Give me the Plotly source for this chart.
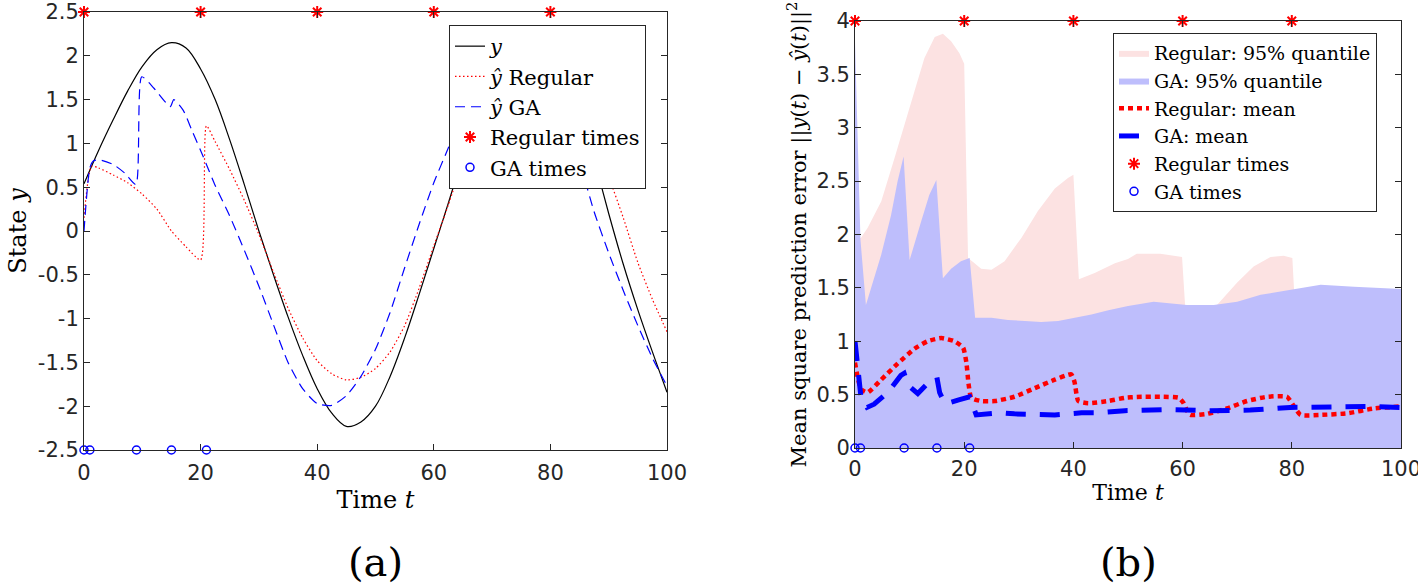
import plotly.graph_objects as go

# ---------------- Panel (a): state and estimates ----------------
T_TRUE = [0, 2.5, 5, 7.5, 10, 12.5, 15, 17.5, 20, 22.5, 25, 27.5, 30, 32.5, 35, 37.5, 40,
          42.5, 45, 47.5, 50, 52.5, 55, 57.5, 60, 62.5, 65, 67.5, 70, 72.5, 75, 77.5, 80,
          82.5, 85, 87.5, 90, 92.5, 95, 97.5, 100]
Y_TRUE = [0.54, 0.92, 1.27, 1.6, 1.88, 2.07, 2.15, 2.09, 1.85, 1.5, 1.04, 0.53, 0.0, -0.5,
          -0.98, -1.42, -1.8, -2.08, -2.23, -2.18, -2.0, -1.66, -1.22, -0.72, -0.2, 0.32,
          0.85, 1.32, 1.72, 2.0, 2.17, 2.2, 2.07, 1.8, 1.4, 0.82, 0.2, -0.38, -0.9, -1.38,
          -1.84]

T_REG = [0, 1.3, 2.5, 5, 7.5, 10, 12.5, 15, 17.5, 20, 21, 22.5, 25, 27.5, 30, 32.5, 35,
         37.5, 40, 42.5, 45, 47.5, 50, 52.5, 55, 57.5, 60, 62.5, 65, 67.5, 70, 72.5, 75,
         77.5, 80, 82.5, 85, 87.5, 90, 92.5, 95, 97.5, 100]
Y_REG = [0.15, 0.74, 0.72, 0.64, 0.55, 0.42, 0.25, 0.0, -0.18, -0.33, 1.2, 1.02, 0.7, 0.35,
         -0.04, -0.47, -0.88, -1.22, -1.48, -1.63, -1.7, -1.67, -1.57, -1.38, -1.08, -0.65,
         -0.17, 0.3, 0.8, 1.25, 1.62, 1.9, 2.05, 2.08, 1.98, 1.75, 1.42, 1.05, 0.62, 0.15,
         -0.36, -0.78, -1.15]

T_GA = [0, 1, 1.6, 2.75, 5, 7, 8.9, 9.9, 12, 14.8, 15.4, 17, 18.5, 20, 21, 22.5, 25, 27.5,
        30, 32.5, 35, 37.5, 40, 42.5, 45, 47.5, 50, 52.5, 55, 57.5, 60, 62.5, 65, 67.5, 70,
        72.5, 75, 77.5, 80, 82.5, 85, 87.5, 90, 92.5, 95, 97.5, 100]
Y_GA = [0.0, 0.72, 0.8, 0.81, 0.76, 0.66, 0.53, 1.76, 1.63, 1.42, 1.5, 1.38, 1.15, 0.92,
        0.76, 0.52, 0.17, -0.22, -0.63, -1.07, -1.5, -1.8, -1.97, -1.99, -1.88, -1.66,
        -1.35, -0.93, -0.42, 0.08, 0.55, 0.95, 1.35, 1.72, 2.0, 2.17, 2.18, 2.05, 1.78,
        1.35, 0.8, 0.22, -0.25, -0.68, -1.08, -1.45, -1.77]

REG_TIMES = [0, 20, 40, 60, 80]
GA_TIMES = [0, 1, 9, 15, 21]

# ---------------- Panel (b): mean square prediction error ----------------
T_REG_Q = [0, 1.1, 2.3, 4.8, 7.2, 9.05, 10.9, 12.7, 14.6, 16.1, 17.6, 19.1, 20.0, 20.7, 21.9,
           23.1, 25, 27.4, 30.5, 33.5, 36.6, 39, 40, 41, 43.9, 47.6, 50, 51.6, 55.9, 59.9,
           60.5, 63, 66.3, 70, 73, 76.1, 78.5, 80.1, 80.6, 85, 90, 95, 100]
REG_Q = [1.95, 1.97, 2.06, 2.31, 2.71, 3.03, 3.34, 3.65, 3.85, 3.88, 3.81, 3.70, 3.60, 1.78,
         1.73, 1.68, 1.67, 1.75, 1.97, 2.22, 2.43, 2.53, 2.56, 1.58, 1.64, 1.73, 1.77, 1.82,
         1.82, 1.79, 1.3, 1.28, 1.34, 1.55, 1.70, 1.79, 1.80, 1.78, 1.3, 1.3, 1.3, 1.3, 1.3]

T_GA_Q = [0, 1.0, 2.0, 4.8, 6.6, 7.8, 8.9, 10.0, 12.1, 13.6, 14.9, 16.1, 17.6, 19.4, 21.0,
          22.0, 25, 28, 31.1, 34.1, 37.2, 40.2, 43.3, 46.4, 50, 54.7, 60.8, 65.7, 70, 74.3,
          79.2, 85.3, 91.4, 97.5, 100]
GA_Q = [3.81, 1.95, 1.34, 1.81, 2.18, 2.5, 2.73, 1.76, 2.12, 2.37, 2.51, 1.59, 1.68, 1.75,
        1.78, 1.22, 1.22, 1.2, 1.19, 1.18, 1.19, 1.22, 1.25, 1.29, 1.33, 1.37, 1.34, 1.34,
        1.37, 1.435, 1.48, 1.53, 1.51, 1.50, 1.49]

T_REG_M = [0, 0.5, 1.1, 2.3, 4.8, 7.8, 10.9, 13.3, 15.8, 18.2, 19.8, 20.4, 20.8, 21.3, 23.1,
           25.6, 29.2, 32.9, 36.6, 39.6, 40.2, 40.9, 42.7, 46.4, 49.4, 51.6, 55.9, 59.3,
           60.2, 60.8, 61.4, 64.5, 68.1, 71.8, 75.5, 79.1, 80.4, 81.6, 85.3, 90.2, 95, 100]
REG_M = [0.8, 0.66, 0.55, 0.52, 0.64, 0.79, 0.93, 1.0, 1.03, 1.0, 0.94, 0.8, 0.6, 0.47, 0.44,
         0.44, 0.48, 0.56, 0.64, 0.69, 0.62, 0.44, 0.42, 0.44, 0.47, 0.478, 0.48, 0.47, 0.42,
         0.35, 0.31, 0.32, 0.37, 0.44, 0.48, 0.48, 0.39, 0.31, 0.31, 0.325, 0.37, 0.39]

T_GA_M = [0, 0.5, 1.1, 2.2, 3.5, 6, 8.4, 9, 9.7, 11.5, 13.6, 15, 15.5, 16.4, 17, 19, 21,
          22.2, 26.8, 29.2, 34.1, 36.6, 41.5, 44.5, 49.4, 51.6, 57.7, 65, 72.4, 79.7, 87.1,
          94.4, 100]
GA_M = [1.0, 0.75, 0.47, 0.38, 0.41, 0.52, 0.68, 0.7, 0.59, 0.51, 0.62, 0.66, 0.52, 0.42,
        0.42, 0.45, 0.48, 0.31, 0.33, 0.32, 0.31, 0.31, 0.33, 0.33, 0.35, 0.355, 0.36, 0.35,
        0.355, 0.38, 0.39, 0.39, 0.38]

# ---------------- Axes ----------------
X_RANGE = [0, 100]
X_TICKS = [0, 20, 40, 60, 80, 100]
X_TICK_TEXT = ["0", "20", "40", "60", "80", "100"]
YA_RANGE = [-2.5, 2.5]
YA_TICKS = [-2.5, -2, -1.5, -1, -0.5, 0, 0.5, 1, 1.5, 2, 2.5]
YA_TICK_TEXT = ["-2.5", "-2", "-1.5", "-1", "-0.5", "0", "0.5", "1", "1.5", "2", "2.5"]
YB_RANGE = [0, 4]
YB_TICKS = [0, 0.5, 1, 1.5, 2, 2.5, 3, 3.5, 4]
YB_TICK_TEXT = ["0", "0.5", "1", "1.5", "2", "2.5", "3", "3.5", "4"]

W, H = 1418, 586
SERIF = "DejaVu Serif, Liberation Serif, serif"
SANS = "DejaVu Sans, Liberation Sans, Arial, sans-serif"
AX = "#262626"
RED = "#ff0000"
BLUE = "#0000ff"
PINK_FILL = "rgb(252,226,226)"
BLUE_FILL = "rgb(190,190,252)"

fig = go.Figure()

# --- panel (a) traces ---
fig.add_trace(go.Scatter(x=T_TRUE, y=Y_TRUE, mode="lines", name="<i>y</i>",
                         line=dict(color="black", width=1.2, shape="spline", smoothing=1),
                         xaxis="x", yaxis="y", legend="legend"))
fig.add_trace(go.Scatter(x=T_REG, y=Y_REG, mode="lines", name="<i>ŷ</i> Regular",
                         line=dict(color=RED, width=1.2, dash="1.5px,2.5px",
                                   shape="spline", smoothing=0.6),
                         xaxis="x", yaxis="y", legend="legend"))
fig.add_trace(go.Scatter(x=T_GA, y=Y_GA, mode="lines", name="<i>ŷ</i> GA",
                         line=dict(color=BLUE, width=1.2, dash="10px,6px",
                                   shape="spline", smoothing=0.6),
                         xaxis="x", yaxis="y", legend="legend"))
fig.add_trace(go.Scatter(x=REG_TIMES, y=[YA_RANGE[1]] * len(REG_TIMES), mode="markers",
                         name="Regular times", cliponaxis=False,
                         marker=dict(symbol="asterisk-open", size=10, color=RED,
                                     line=dict(color=RED, width=2)),
                         xaxis="x", yaxis="y", legend="legend"))
fig.add_trace(go.Scatter(x=GA_TIMES, y=[YA_RANGE[0]] * len(GA_TIMES), mode="markers",
                         name="GA times", cliponaxis=False,
                         marker=dict(symbol="circle-open", size=8, color=BLUE,
                                     line=dict(color=BLUE, width=1.5)),
                         xaxis="x", yaxis="y", legend="legend"))

# --- panel (b) traces ---
fig.add_trace(go.Scatter(x=T_REG_Q, y=REG_Q, mode="lines", fill="tozeroy",
                         fillcolor=PINK_FILL, line=dict(width=0, color=PINK_FILL),
                         name="Regular: 95% quantile", xaxis="x2", yaxis="y2",
                         legend="legend2"))
fig.add_trace(go.Scatter(x=T_GA_Q, y=GA_Q, mode="lines", fill="tozeroy",
                         fillcolor=BLUE_FILL, line=dict(width=0, color=BLUE_FILL),
                         name="GA: 95% quantile", xaxis="x2", yaxis="y2",
                         legend="legend2"))
fig.add_trace(go.Scatter(x=T_REG_M, y=REG_M, mode="lines", name="Regular: mean",
                         line=dict(color=RED, width=4.5, dash="5px,4px",
                                   shape="spline", smoothing=0.5),
                         xaxis="x2", yaxis="y2", legend="legend2"))
fig.add_trace(go.Scatter(x=T_GA_M, y=GA_M, mode="lines", name="GA: mean",
                         line=dict(color=BLUE, width=5, dash="20px,14px"),
                         xaxis="x2", yaxis="y2", legend="legend2"))
fig.add_trace(go.Scatter(x=REG_TIMES, y=[YB_RANGE[1]] * len(REG_TIMES), mode="markers",
                         name="Regular times", cliponaxis=False,
                         marker=dict(symbol="asterisk-open", size=10, color=RED,
                                     line=dict(color=RED, width=2)),
                         xaxis="x2", yaxis="y2", legend="legend2"))
fig.add_trace(go.Scatter(x=GA_TIMES, y=[YB_RANGE[0]] * len(GA_TIMES), mode="markers",
                         name="GA times", cliponaxis=False,
                         marker=dict(symbol="circle-open", size=8, color=BLUE,
                                     line=dict(color=BLUE, width=1.5)),
                         xaxis="x2", yaxis="y2", legend="legend2"))


def axis(**kw):
    d = dict(showline=True, linecolor=AX, linewidth=1, mirror="ticks", ticks="inside",
             ticklen=6, tickcolor=AX, tickwidth=1, showgrid=False, zeroline=False,
             tickfont=dict(family=SANS, size=21, color=AX), automargin=False,
             layer="above traces")
    d.update(kw)
    return d


fig.update_layout(
    width=W, height=H,
    margin=dict(l=0, r=0, t=0, b=0),
    paper_bgcolor="white", plot_bgcolor="white",
    showlegend=True,
    xaxis=axis(domain=[84 / W, 667 / W], range=X_RANGE, tickvals=X_TICKS,
               ticktext=X_TICK_TEXT, anchor="y", ticklabelstandoff=4,
               ticklabeloverflow="allow",
               title=dict(text="Time <i>t</i>", font=dict(family=SERIF, size=24, color="black"),
                          standoff=6)),
    yaxis=axis(domain=[1 - 450 / H, 1 - 12 / H], range=YA_RANGE, tickvals=YA_TICKS,
               ticktext=YA_TICK_TEXT, anchor="x",
               title=dict(text="State <i>y</i>", font=dict(family=SERIF, size=24, color="black"),
                          standoff=4)),
    xaxis2=axis(domain=[855 / W, 1401 / W], range=X_RANGE, tickvals=X_TICKS,
                ticktext=X_TICK_TEXT, anchor="y2", ticklabelstandoff=2,
                ticklabeloverflow="allow",
                title=dict(text="Time <i>t</i>", font=dict(family=SERIF, size=22, color="black"),
                           standoff=4)),
    yaxis2=axis(domain=[1 - 448 / H, 1 - 21 / H], range=YB_RANGE, tickvals=YB_TICKS,
                ticktext=YB_TICK_TEXT, anchor="x2",
                title=dict(text="Mean square prediction error ||<i>y</i>(<i>t</i>) − <i>ŷ</i>(<i>t</i>)||<sup>2</sup>",
                           font=dict(family=SERIF, size=21, color="black"), standoff=4)),
    legend=dict(x=449 / W, y=1 - 25 / H, xanchor="left", yanchor="top",
                bgcolor="white", bordercolor=AX, borderwidth=1,
                font=dict(family=SERIF, size=21, color="black")),
    legend2=dict(x=1113 / W, y=1 - 33 / H, xanchor="left", yanchor="top",
                 bgcolor="white", bordercolor=AX, borderwidth=1,
                 font=dict(family=SERIF, size=19, color="black")),
    annotations=[
        dict(text="(a)", x=(84 + 667) / 2 / W, y=1 - 562 / H, xref="paper", yref="paper",
             xanchor="center", yanchor="middle",
             showarrow=False, font=dict(family=SERIF, size=40, color="black")),
        dict(text="(b)", x=(855 + 1401) / 2 / W, y=1 - 562 / H, xref="paper", yref="paper",
             xanchor="center", yanchor="middle",
             showarrow=False, font=dict(family=SERIF, size=40, color="black")),
    ],
)

fig.write_html("out.html", config={"displayModeBar": False},
               post_script="document.body.style.margin='0';")
